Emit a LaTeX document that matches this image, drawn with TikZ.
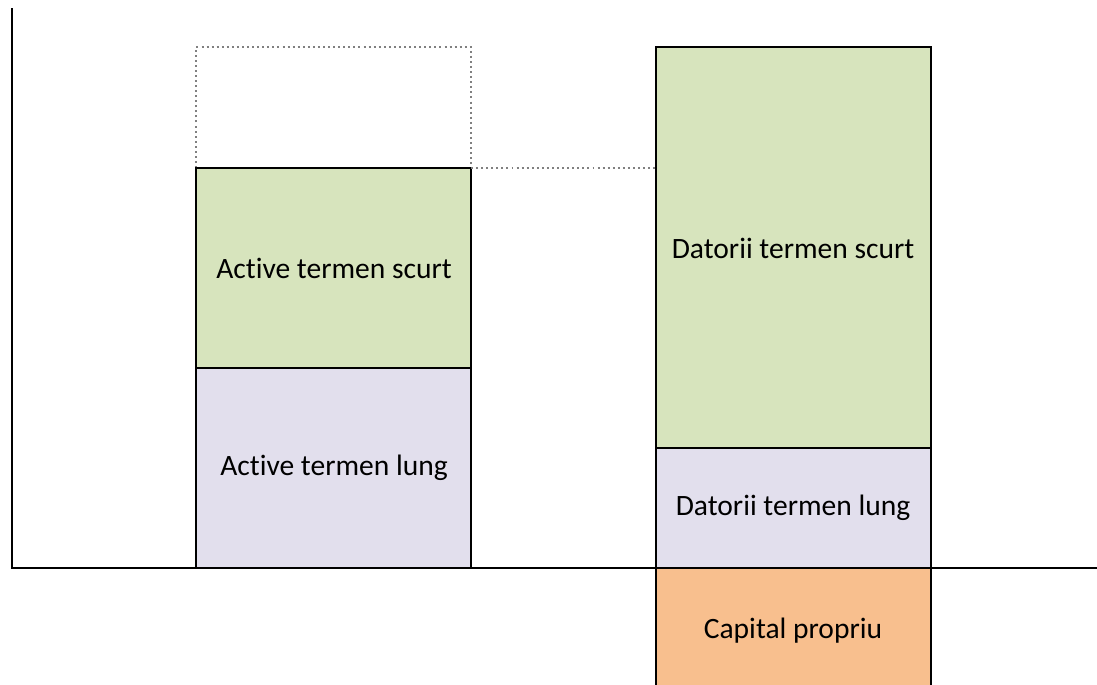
\documentclass[tikz,border=0pt]{standalone}
\usepackage{fontspec}
\setmainfont{Carlito}[Ligatures=NoCommon]
\usepackage{xcolor}
\definecolor{shortgreen}{HTML}{D7E4BD}
\definecolor{longlilac}{HTML}{E2DFED}
\definecolor{equityorange}{HTML}{F8BF8E}

\begin{document}
\begin{tikzpicture}[x=0.025cm,y=-0.025cm,line width=2.1pt]
\tikzset{
  label/.style={font=\fontsize{21}{25}\selectfont},
  guide/.style={gray,line width=1.1pt,dash pattern=on 1.4pt off 2.2pt}
}
\useasboundingbox (0,0) rectangle (1097,684);
% axes
\draw (12,8) -- (12,568) -- (1097,568);
% assets
\draw[guide] (196,168) -- (196,47) -- (471,47) -- (471,168);
\filldraw[fill=shortgreen] (196,168) rectangle (471,368);
\filldraw[fill=longlilac] (196,368) rectangle (471,568);
\node[label] (activescurt) at (334,268) {Active termen scurt};
\node[label] (activelung) at (334,468) {Active termen lung};
% liabilities
\filldraw[fill=shortgreen] (656,47) rectangle (931,448);
\filldraw[fill=longlilac] (656,448) rectangle (931,568);
\fill[equityorange] (656,568) rectangle (931,700);
\draw (656,568) -- (656,700);
\draw (931,568) -- (931,700);
\draw (12,568) -- (1097,568);
\node[label] (datoriiscurt) at (793,248) {Datorii termen scurt};
\node[label] (datoriilung) at (793,508) {Datorii termen lung};
\node[label] (capital) at (793,631) {Capital propriu};
% level of short-term assets
\coordinate (assettop) at (471,168);
\coordinate (debtside) at (656,168);
\draw[guide] (assettop) -- (debtside);
\end{tikzpicture}
\end{document}
